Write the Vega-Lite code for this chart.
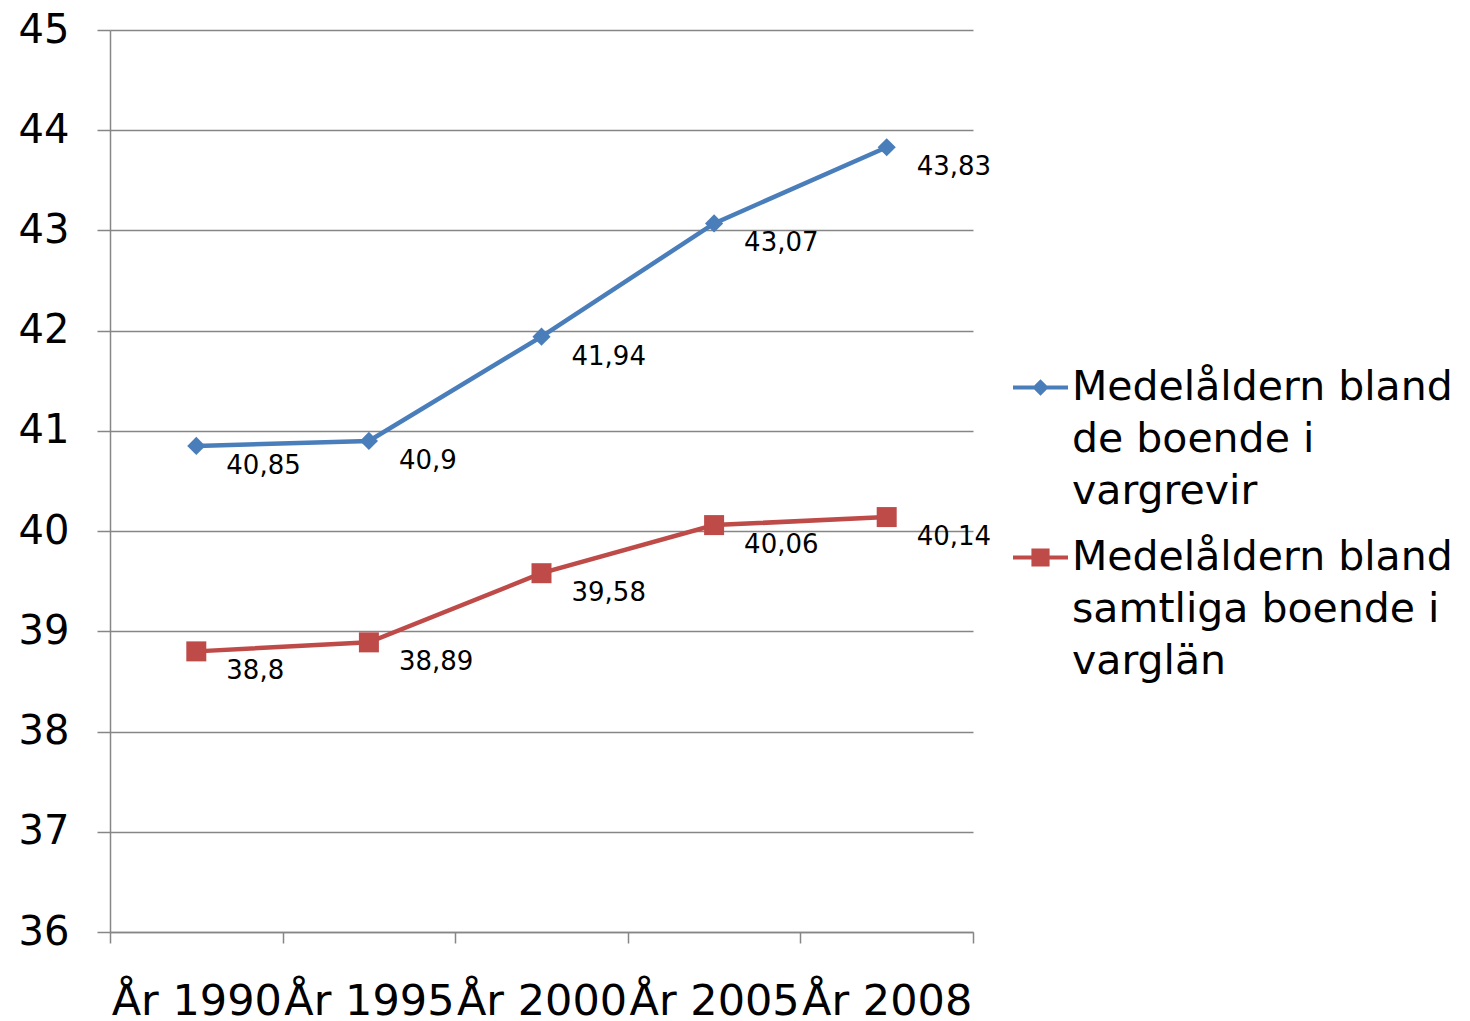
{
  "$schema": "https://vega.github.io/schema/vega-lite/v6.json",
  "width": 863,
  "height": 902,
  "autosize": {"type": "none"},
  "padding": {"left": 110, "top": 30, "right": 497, "bottom": 89},
  "background": "white",
  "config": {
    "locale": {"number": {"decimal": ",", "thousands": "\u00a0", "grouping": [3], "currency": ["", " kr"]}},
    "view": {"stroke": null},
    "font": "DejaVu Sans"
  },
  "data": {
    "values": [
      {"year": "År 1990", "series": "Medelåldern bland de boende i vargrevir", "value": 40.85},
      {"year": "År 1995", "series": "Medelåldern bland de boende i vargrevir", "value": 40.9},
      {"year": "År 2000", "series": "Medelåldern bland de boende i vargrevir", "value": 41.94},
      {"year": "År 2005", "series": "Medelåldern bland de boende i vargrevir", "value": 43.07},
      {"year": "År 2008", "series": "Medelåldern bland de boende i vargrevir", "value": 43.83},
      {"year": "År 1990", "series": "Medelåldern bland samtliga boende i varglän", "value": 38.8},
      {"year": "År 1995", "series": "Medelåldern bland samtliga boende i varglän", "value": 38.89},
      {"year": "År 2000", "series": "Medelåldern bland samtliga boende i varglän", "value": 39.58},
      {"year": "År 2005", "series": "Medelåldern bland samtliga boende i varglän", "value": 40.06},
      {"year": "År 2008", "series": "Medelåldern bland samtliga boende i varglän", "value": 40.14}
    ]
  },
  "encoding": {
    "x": {
      "field": "year", "type": "nominal", "sort": null,
      "scale": {"type": "band", "paddingInner": 0, "paddingOuter": 0},
      "axis": {
        "title": null, "labelAngle": 0, "tickBand": "extent", "grid": false,
        "domainColor": "#868686", "domainWidth": 1.5, "tickColor": "#868686", "tickWidth": 1.5, "tickSize": 11,
        "labelFontSize": 43, "labelColor": "black", "labelPadding": 37, "labelOverlap": false, "labelBound": false, "labelLimit": 400
      }
    },
    "y": {
      "field": "value", "type": "quantitative",
      "scale": {"domain": [36, 45], "nice": false, "zero": false},
      "axis": {
        "title": null, "values": [36, 37, 38, 39, 40, 41, 42, 43, 44, 45],
        "grid": true, "gridColor": "#868686", "gridWidth": 1.5,
        "domainColor": "#868686", "domainWidth": 1.5, "tickColor": "#868686", "tickWidth": 1.5, "tickSize": 13,
        "labelFontSize": 40, "labelColor": "black", "labelPadding": 28, "labelBound": false, "labelFlush": false, "labelOverlap": false
      }
    }
  },
  "layer": [
    {
      "mark": {"type": "point", "filled": true, "opacity": 0, "strokeWidth": 0},
      "encoding": {
        "fill": {
          "field": "series", "type": "nominal",
          "scale": {"domain": ["Medelåldern bland de boende i vargrevir", "Medelåldern bland samtliga boende i varglän"], "range": ["#4A7EBB", "#BE4B48"]},
          "legend": {
            "title": null, "orient": "none", "legendX": 903, "legendY": 330,
            "symbolSize": 3025, "symbolStrokeWidth": 0, "symbolOpacity": 1, "labelFontSize": 41, "labelColor": "black",
            "labelOffset": 4, "labelLimit": 600, "labelBaseline": "top", "rowPadding": 18,
            "labelExpr": "datum.label == 'Medelåldern bland de boende i vargrevir' ? ['Medelåldern bland', 'de boende i', 'vargrevir'] : ['Medelåldern bland', 'samtliga boende i', 'varglän']",
            "encode": {"labels": {"update": {"lineHeight": {"value": 52}, "dy": {"value": -20}}}}
          }
        },
        "shape": {
          "field": "series", "type": "nominal",
          "scale": {"domain": ["Medelåldern bland de boende i vargrevir", "Medelåldern bland samtliga boende i varglän"], "range": ["M-1,-0.075H1V0.075H-1Z M0,-0.3L0.3,0L0,0.3L-0.3,0Z", "M-1,-0.075H1V0.075H-1Z M-0.33,-0.33H0.33V0.33H-0.33Z"]},
          "legend": {
            "title": null, "orient": "none", "legendX": 903, "legendY": 330,
            "symbolSize": 3025, "symbolStrokeWidth": 0, "symbolOpacity": 1, "labelFontSize": 41, "labelColor": "black",
            "labelOffset": 4, "labelLimit": 600, "labelBaseline": "top", "rowPadding": 18,
            "labelExpr": "datum.label == 'Medelåldern bland de boende i vargrevir' ? ['Medelåldern bland', 'de boende i', 'vargrevir'] : ['Medelåldern bland', 'samtliga boende i', 'varglän']",
            "encode": {"labels": {"update": {"lineHeight": {"value": 52}, "dy": {"value": -20}}}}
          }
        }
      }
    },
    {
      "mark": {"type": "line", "strokeWidth": 4.5},
      "encoding": {
        "color": {"field": "series", "type": "nominal", "legend": null,
          "scale": {"domain": ["Medelåldern bland de boende i vargrevir", "Medelåldern bland samtliga boende i varglän"], "range": ["#4A7EBB", "#BE4B48"]}}
      }
    },
    {
      "transform": [{"filter": "datum.series == 'Medelåldern bland de boende i vargrevir'"}],
      "mark": {"type": "point", "filled": true, "opacity": 1, "shape": "diamond", "size": 330},
      "encoding": {"color": {"field": "series", "type": "nominal", "legend": null}}
    },
    {
      "transform": [{"filter": "datum.series == 'Medelåldern bland samtliga boende i varglän'"}],
      "mark": {"type": "point", "filled": true, "opacity": 1, "shape": "square", "size": 400},
      "encoding": {"color": {"field": "series", "type": "nominal", "legend": null}}
    },
    {
      "mark": {"type": "text", "align": "left", "baseline": "middle", "dx": 30, "dy": 20, "fontSize": 26, "color": "black"},
      "encoding": {
        "text": {"field": "value", "type": "quantitative", "format": ".2~f"}
      }
    }
  ]
}
